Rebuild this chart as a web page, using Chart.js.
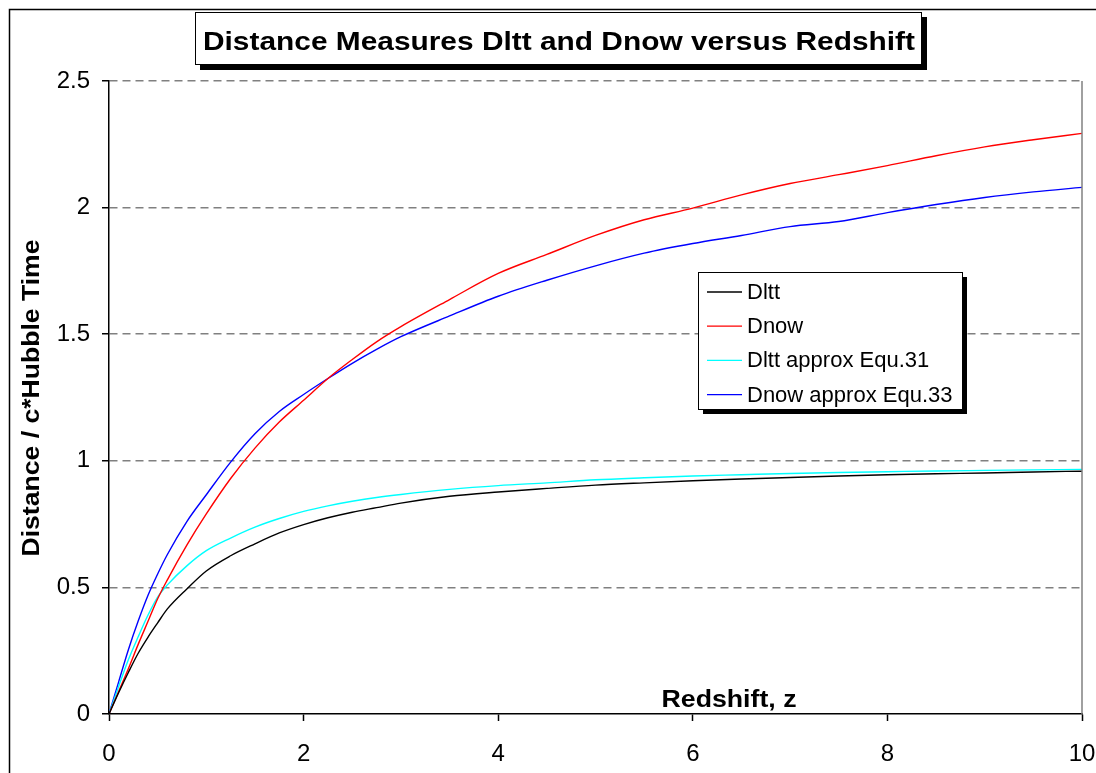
<!DOCTYPE html>
<html>
<head>
<meta charset="utf-8">
<title>Distance Measures Dltt and Dnow versus Redshift</title>
<script src="https://cdn.jsdelivr.net/npm/chart.js@4.4.1/dist/chart.umd.min.js"></script>
<style>
  body { margin: 0; background: #fff; }
  canvas { display: block; }
</style>
</head>
<body>
<canvas id="grafica" width="1096" height="773"></canvas>
<script>
// datos (z y distancias en c*tiempo de Hubble)
const redshift = [0, 0.1, 0.2, 0.3, 0.4, 0.5, 0.6, 0.8, 1.0, 1.25, 1.5, 1.75, 2.0, 2.25, 2.5, 2.75, 3.0, 3.5, 4.0, 4.5, 5.0, 5.5, 6.0, 6.5, 7.0, 7.5, 8.0, 8.5, 9.0, 9.5, 10];
const dltt = [0, 0.085, 0.165, 0.24, 0.303, 0.36, 0.415, 0.494, 0.565, 0.625, 0.672, 0.715, 0.748, 0.775, 0.797, 0.815, 0.833, 0.86, 0.877, 0.891, 0.904, 0.913, 0.921, 0.928, 0.934, 0.94, 0.945, 0.949, 0.952, 0.956, 0.959];
const dnow = [0, 0.09, 0.18, 0.275, 0.365, 0.455, 0.53, 0.667, 0.79, 0.93, 1.05, 1.153, 1.239, 1.325, 1.40, 1.47, 1.53, 1.637, 1.74, 1.815, 1.89, 1.952, 1.998, 2.05, 2.095, 2.13, 2.166, 2.205, 2.24, 2.268, 2.293];
const dlttApprox = [0, 0.11, 0.215, 0.305, 0.39, 0.462, 0.51, 0.585, 0.645, 0.695, 0.738, 0.772, 0.80, 0.822, 0.84, 0.855, 0.867, 0.887, 0.902, 0.913, 0.925, 0.933, 0.94, 0.945, 0.95, 0.954, 0.957, 0.96, 0.962, 0.964, 0.966];
const dnowApprox = [0, 0.128, 0.255, 0.367, 0.468, 0.553, 0.63, 0.76, 0.866, 0.995, 1.107, 1.195, 1.262, 1.325, 1.385, 1.44, 1.49, 1.572, 1.65, 1.713, 1.77, 1.82, 1.858, 1.89, 1.925, 1.945, 1.98, 2.012, 2.04, 2.062, 2.08];

const seriesNames = ["Dltt", "Dnow", "Dltt approx Equ.31", "Dnow approx Equ.33"];
const seriesColors = ["#000000", "#ff0000", "#00ffff", "#0000ff"];
const seriesValues = [dltt, dnow, dlttApprox, dnowApprox];

const chartTitle = "Distance Measures Dltt and Dnow versus Redshift";
const xTitle = "Redshift, z";
const yTitle = "Distance / c*Hubble Time";

const FONT = "'Liberation Sans', Arial, Helvetica, sans-serif";

// texto estirado a un ancho dado (Excel dibuja las letras algo mas anchas)
function textoAjustado(ctx, txt, x, y, ancho, font) {
  ctx.save();
  ctx.font = font;
  const w = ctx.measureText(txt).width;
  ctx.translate(x, y);
  ctx.scale(ancho / w, 1);
  ctx.textAlign = "center";
  ctx.fillText(txt, 0, 0);
  ctx.restore();
}

const decorado = {
  id: "decorado",
  afterDraw(chart) {
    const ctx = chart.ctx;
    const a = chart.chartArea;
    ctx.save();

    // borde derecho gris del area de trazado
    ctx.strokeStyle = "#808080";
    ctx.lineWidth = 1.5;
    ctx.beginPath();
    ctx.moveTo(a.right, a.top);
    ctx.lineTo(a.right, a.bottom);
    ctx.stroke();

    // borde exterior
    ctx.strokeStyle = "#000";
    ctx.lineWidth = 1.5;
    ctx.strokeRect(9.5, 9.5, 2000, 2000);

    // caja del titulo con sombra
    ctx.fillStyle = "#000";
    ctx.fillRect(200, 17, 727, 53);
    ctx.fillStyle = "#fff";
    ctx.fillRect(195, 12, 726, 52);
    ctx.strokeStyle = "#000";
    ctx.lineWidth = 1;
    ctx.strokeRect(195.5, 12.5, 726, 52);
    ctx.fillStyle = "#000";
    textoAjustado(ctx, chartTitle, 559, 50, 712, "bold 25px " + FONT);

    // titulos de ejes
    textoAjustado(ctx, xTitle, 729, 707, 135, "bold 23px " + FONT);
    ctx.save();
    ctx.translate(33, 398);
    ctx.rotate(-Math.PI / 2);
    ctx.textBaseline = "middle";
    textoAjustado(ctx, yTitle, 0, 0, 317, "bold 23px " + FONT);
    ctx.restore();

    // leyenda
    ctx.fillStyle = "#000";
    ctx.fillRect(703, 277, 264, 137);
    ctx.fillStyle = "#fff";
    ctx.fillRect(698, 272, 264, 137);
    ctx.strokeStyle = "#000";
    ctx.lineWidth = 1;
    ctx.strokeRect(698.5, 272.5, 264, 137);
    ctx.font = "22px " + FONT;
    ctx.textBaseline = "middle";
    ctx.textAlign = "left";
    seriesNames.forEach((nombre, i) => {
      const y = 292 + i * 34.2;
      ctx.strokeStyle = seriesColors[i];
      ctx.lineWidth = 1.3;
      ctx.beginPath();
      ctx.moveTo(707, y);
      ctx.lineTo(742, y);
      ctx.stroke();
      ctx.fillStyle = "#000";
      ctx.fillText(nombre, 747, y + 1);
    });

    ctx.restore();
  }
};

Chart.defaults.color = "#000";
Chart.defaults.font.family = FONT;

new Chart(document.getElementById("grafica"), {
  type: "line",
  data: {
    datasets: seriesNames.map((nombre, i) => ({
      label: nombre,
      data: redshift.map((z, k) => ({ x: z, y: seriesValues[i][k] })),
      borderColor: seriesColors[i],
      borderWidth: 1.4,
      pointRadius: 0,
      fill: false,
      cubicInterpolationMode: "monotone"
    }))
  },
  options: {
    responsive: false,
    animation: false,
    devicePixelRatio: 1,
    layout: { padding: { left: 0, right: 0, top: 81, bottom: 0 } },
    plugins: {
      legend: { display: false },
      title: { display: false },
      tooltip: { enabled: false }
    },
    scales: {
      x: {
        type: "linear",
        min: 0,
        max: 10,
        ticks: { stepSize: 2, font: { size: 24 }, padding: 19, maxRotation: 0, callback: v => String(v) },
        grid: { drawOnChartArea: false, drawTicks: true, tickLength: 7, tickColor: "#000", tickWidth: 1.5 },
        border: { color: "#000", width: 1.5 },
        afterFit: scale => {
          scale.height = 59;
          scale.paddingLeft = 0;
          scale.paddingRight = 14;
        }
      },
      y: {
        min: 0,
        max: 2.5,
        ticks: { stepSize: 0.5, font: { size: 24 }, padding: 12, callback: v => String(v) },
        grid: {
          color: c => (c.tick && c.tick.value === 0) ? "rgba(0,0,0,0)" : "#808080",
          lineWidth: 1.5,
          tickLength: 7,
          tickColor: "#000",
          tickWidth: 1.5
        },
        border: { color: "#000", width: 1.5, dash: [8, 5] },
        afterFit: scale => { scale.width = 109; }
      }
    }
  },
  plugins: [decorado]
});
</script>
</body>
</html>
